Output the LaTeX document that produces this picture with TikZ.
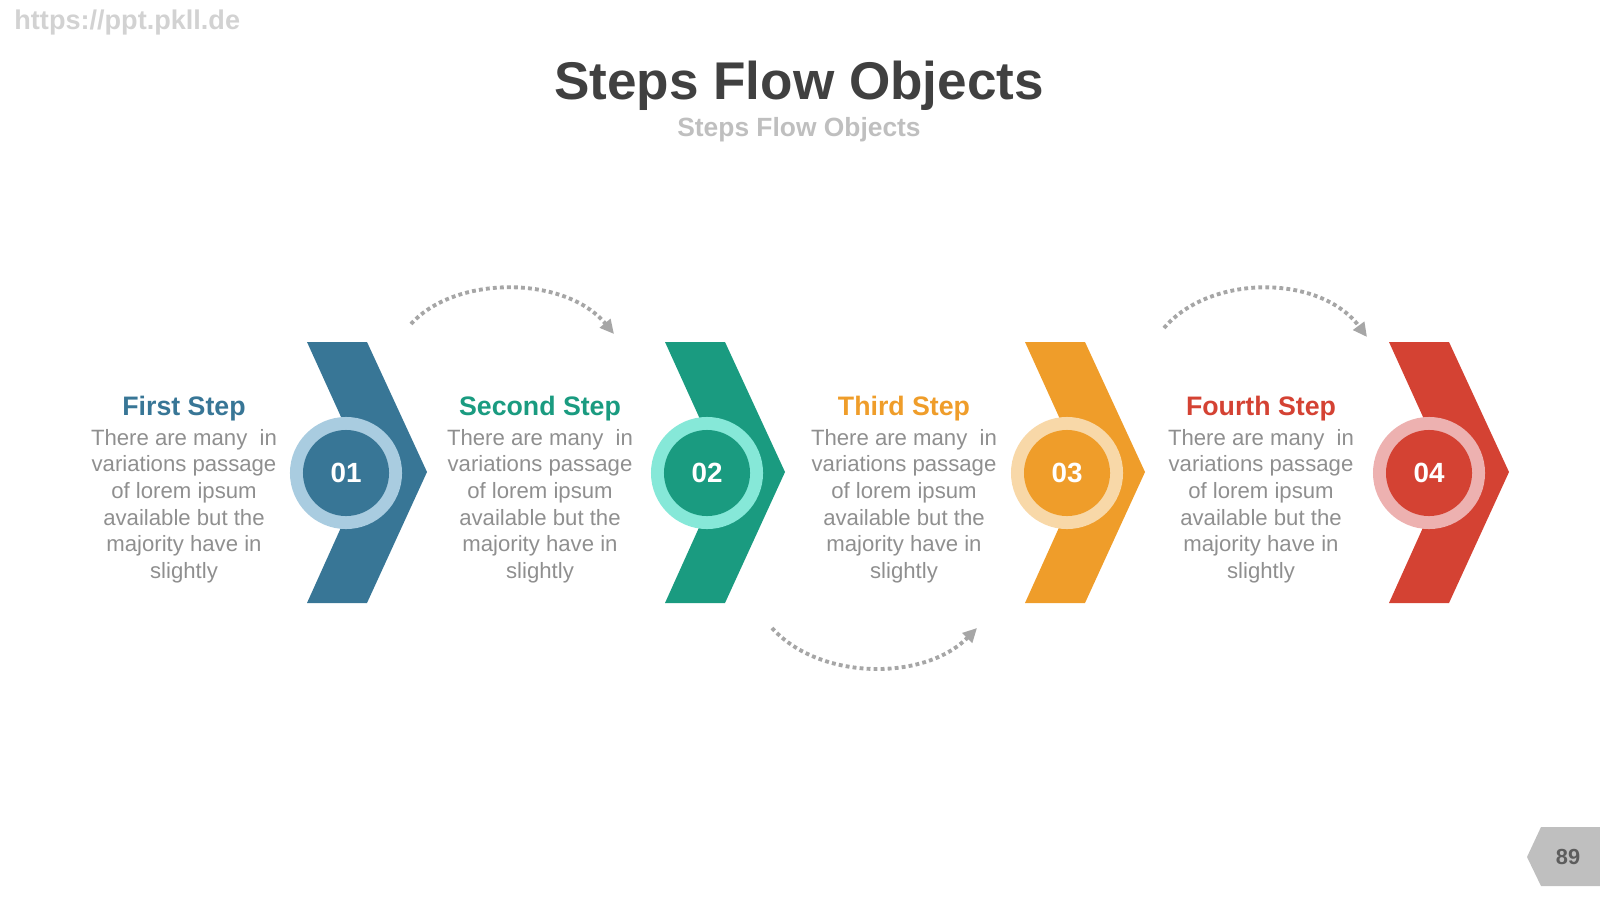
\documentclass[tikz,border=0pt]{standalone}
\usepackage{fontspec}
\setmainfont{Liberation Sans}
\usepackage{xcolor}
\usetikzlibrary{arrows.meta,positioning}
\definecolor{stepblue}{RGB}{56,118,150}
\definecolor{stepbluering}{RGB}{169,204,224}
\definecolor{stepteal}{RGB}{26,155,128}
\definecolor{steptealring}{RGB}{134,232,216}
\definecolor{steporange}{RGB}{239,157,42}
\definecolor{steporangering}{RGB}{248,216,168}
\definecolor{stepred}{RGB}{212,66,51}
\definecolor{stepredring}{RGB}{237,177,176}
\definecolor{flowdark}{RGB}{64,64,64}
\definecolor{flowgray}{RGB}{143,143,143}
\definecolor{flowlight}{RGB}{191,191,191}
\definecolor{flowdots}{RGB}{166,166,166}

\begin{document}
\begin{tikzpicture}[
  x=0.01cm, y=-0.01cm,
  ring/.style={circle, inner sep=0pt, minimum size=1.12cm},
  core/.style={circle, inner sep=0pt, minimum size=0.86cm,
               text=white, font=\fontsize{7.9pt}{9pt}\selectfont\bfseries},
  steptitle/.style={font=\fontsize{7.6pt}{9pt}\selectfont\bfseries, anchor=center},
  body/.style={font=\fontsize{6.3pt}{7.55pt}\selectfont, text=flowgray,
               align=center, inner sep=0pt},
  dots/.style={draw=flowdots, line width=1.1pt, dash pattern=on 1.1pt off 0.9pt,
               -{Triangle[length=4pt, width=3.8pt]}}
]
\useasboundingbox (0,0) rectangle (1600,900);

% --- header ---
\node[anchor=west, text=flowlight!70, font=\fontsize{7.7pt}{9pt}\selectfont\bfseries] (web) at (2,23) {https://ppt.pkll.de};
\node[text=flowdark, font=\fontsize{15.1pt}{17pt}\selectfont\bfseries] (title) at (799,86) {Steps Flow Objects};
\node[text=flowlight, font=\fontsize{7.5pt}{9pt}\selectfont\bfseries] (subtitle) at (799,130) {Steps Flow Objects};

% --- chevrons ---
\fill[stepblue]   (307,342) -- ++(60,0) -- ++(60,130) -- ++(-60,131) -- ++(-60,0) -- ++(59,-131) -- cycle;
\fill[stepteal]   (665,342) -- ++(60,0) -- ++(60,130) -- ++(-60,131) -- ++(-60,0) -- ++(59,-131) -- cycle;
\fill[steporange] (1025,342) -- ++(60,0) -- ++(60,130) -- ++(-60,131) -- ++(-60,0) -- ++(59,-131) -- cycle;
\fill[stepred]    (1389,342) -- ++(60,0) -- ++(60,130) -- ++(-60,131) -- ++(-60,0) -- ++(59,-131) -- cycle;

% --- number circles ---
\node[ring, fill=stepbluering]   (ring1) at (346,473) {};
\node[core, fill=stepblue]       (num1) at (ring1) {01};
\node[ring, fill=steptealring]   (ring2) at (707,473) {};
\node[core, fill=stepteal]       (num2) at (ring2) {02};
\node[ring, fill=steporangering] (ring3) at (1067,473) {};
\node[core, fill=steporange]     (num3) at (ring3) {03};
\node[ring, fill=stepredring]    (ring4) at (1429,473) {};
\node[core, fill=stepred]        (num4) at (ring4) {04};

% --- step texts ---
\node[steptitle, text=stepblue]   (head1) at (184,409) {First Step};
\node[steptitle, text=stepteal]   (head2) at (540,409) {Second Step};
\node[steptitle, text=steporange] (head3) at (904,409) {Third Step};
\node[steptitle, text=stepred]    (head4) at (1261,409) {Fourth Step};

\node[body] (text1) at (184,506) {There are many \ in\\variations passage\\of lorem ipsum\\available but the\\majority have in\\slightly};
\node[body] (text2) at (540,506) {There are many \ in\\variations passage\\of lorem ipsum\\available but the\\majority have in\\slightly};
\node[body] (text3) at (904,506) {There are many \ in\\variations passage\\of lorem ipsum\\available but the\\majority have in\\slightly};
\node[body] (text4) at (1261,506) {There are many \ in\\variations passage\\of lorem ipsum\\available but the\\majority have in\\slightly};

% --- dotted arcs ---
\coordinate (a1) at (411,324);  \coordinate (b1) at (614,334);
\coordinate (a2) at (772,628);  \coordinate (b2) at (977,628);
\coordinate (a3) at (1164,328); \coordinate (b3) at (1367,337);
\draw[dots] (a1) .. controls (455,275) and (565,275) .. (b1);
\draw[dots] (a2) .. controls (820,681) and (925,681) .. (b2);
\draw[dots] (a3) .. controls (1210,274) and (1320,274) .. (b3);

% --- page tag ---
\fill[flowlight] (1527,857) -- (1541,827) -- (1600,827) -- (1600,886) -- (1541,886) -- cycle;
\node[text=flowdark!85, font=\fontsize{6.2pt}{7pt}\selectfont\bfseries] (page) at (1568,857) {89};

\end{tikzpicture}
\end{document}
